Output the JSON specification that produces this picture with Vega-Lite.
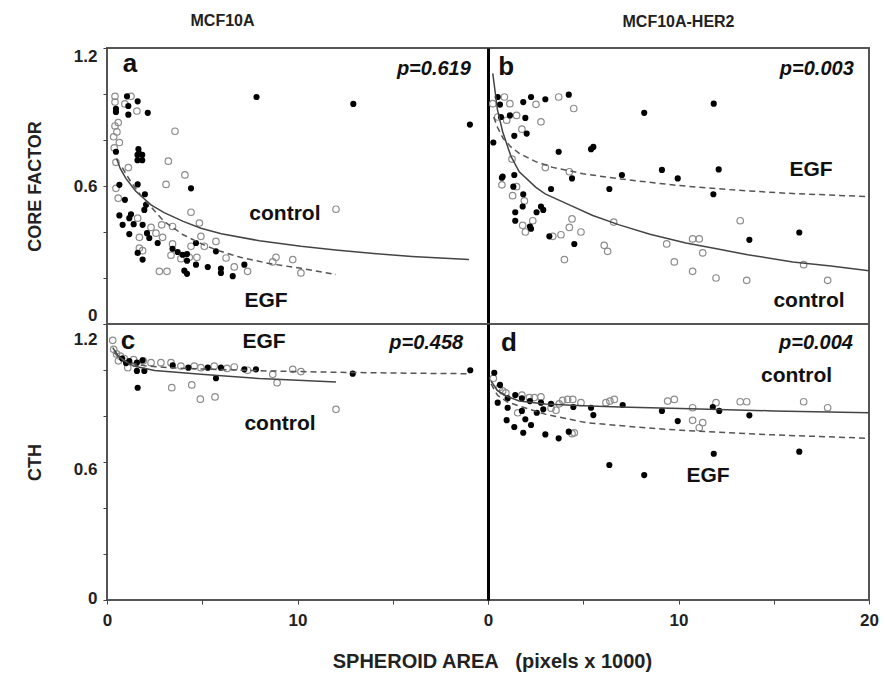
{
"$schema":"https://vega.github.io/schema/vega-lite/v6.json",
"background":"white",
"padding":{"left":25,"top":12,"right":5,"bottom":5},
"bounds":"flush",
"columns":2,
"spacing":0,
"config":{
 "font":"Liberation Sans",
 "view":{"stroke":"#555","strokeWidth":2},
 "axis":{"labelFont":"Liberation Sans","labelFontWeight":"bold","labelFontSize":17,"labelColor":"#222","titleFont":"Liberation Sans","titleFontWeight":"bold","titleFontSize":18,"titleColor":"#222","tickColor":"#444","domainColor":"#444","grid":false,"tickSize":4},
 "title":{"font":"Liberation Sans","fontSize":16,"fontWeight":"bold","color":"#222"}
},
"title":{"text":"SPHEROID AREA\u00a0\u00a0 (pixels x 1000)","orient":"bottom","anchor":"middle","offset":23,"dx":40,"fontSize":20,"fontWeight":"bold","color":"#222"},
"datasets":{
"pts":[
{"panel":"a","treatment":"control","x":0.42,"y":0.99},{"panel":"a","treatment":"control","x":0.42,"y":0.965},{"panel":"a","treatment":"control","x":1.26,"y":0.99},{"panel":"a","treatment":"control","x":0.94,"y":0.957},{"panel":"a","treatment":"control","x":1.57,"y":0.926},{"panel":"a","treatment":"control","x":0.59,"y":0.876},{"panel":"a","treatment":"control","x":0.42,"y":0.861},{"panel":"a","treatment":"control","x":0.52,"y":0.835},{"panel":"a","treatment":"control","x":3.57,"y":0.838},{"panel":"a","treatment":"control","x":0.35,"y":0.814},{"panel":"a","treatment":"control","x":0.65,"y":0.789},{"panel":"a","treatment":"control","x":0.38,"y":0.766},{"panel":"a","treatment":"control","x":0.47,"y":0.703},{"panel":"a","treatment":"control","x":3.22,"y":0.708},{"panel":"a","treatment":"control","x":1.12,"y":0.68},{"panel":"a","treatment":"control","x":4.09,"y":0.648},{"panel":"a","treatment":"control","x":3.1,"y":0.607},{"panel":"a","treatment":"control","x":0.47,"y":0.59},{"panel":"a","treatment":"control","x":0.59,"y":0.547},{"panel":"a","treatment":"control","x":4.41,"y":0.486},{"panel":"a","treatment":"control","x":1.61,"y":0.46},{"panel":"a","treatment":"control","x":2.31,"y":0.42},{"panel":"a","treatment":"control","x":2.87,"y":0.431},{"panel":"a","treatment":"control","x":3.44,"y":0.424},{"panel":"a","treatment":"control","x":4.85,"y":0.439},{"panel":"a","treatment":"control","x":1.7,"y":0.377},{"panel":"a","treatment":"control","x":2.57,"y":0.395},{"panel":"a","treatment":"control","x":2.92,"y":0.377},{"panel":"a","treatment":"control","x":4.93,"y":0.381},{"panel":"a","treatment":"control","x":3.44,"y":0.348},{"panel":"a","treatment":"control","x":4.41,"y":0.338},{"panel":"a","treatment":"control","x":5.11,"y":0.338},{"panel":"a","treatment":"control","x":5.72,"y":0.359},{"panel":"a","treatment":"control","x":1.7,"y":0.33},{"panel":"a","treatment":"control","x":1.87,"y":0.319},{"panel":"a","treatment":"control","x":3.36,"y":0.299},{"panel":"a","treatment":"control","x":3.88,"y":0.284},{"panel":"a","treatment":"control","x":4.32,"y":0.29},{"panel":"a","treatment":"control","x":4.72,"y":0.29},{"panel":"a","treatment":"control","x":6.25,"y":0.287},{"panel":"a","treatment":"control","x":6.68,"y":0.248},{"panel":"a","treatment":"control","x":7.38,"y":0.229},{"panel":"a","treatment":"control","x":2.75,"y":0.229},{"panel":"a","treatment":"control","x":3.15,"y":0.229},{"panel":"a","treatment":"control","x":8.87,"y":0.29},{"panel":"a","treatment":"control","x":9.75,"y":0.28},{"panel":"a","treatment":"control","x":8.7,"y":0.27},{"panel":"a","treatment":"control","x":10.18,"y":0.222},{"panel":"a","treatment":"control","x":12.02,"y":0.499},
{"panel":"a","treatment":"EGF","x":7.85,"y":0.987},{"panel":"a","treatment":"EGF","x":1.05,"y":0.99},{"panel":"a","treatment":"EGF","x":1.61,"y":0.968},{"panel":"a","treatment":"EGF","x":0.47,"y":0.936},{"panel":"a","treatment":"EGF","x":0.47,"y":0.922},{"panel":"a","treatment":"EGF","x":1.12,"y":0.948},{"panel":"a","treatment":"EGF","x":1.12,"y":0.91},{"panel":"a","treatment":"EGF","x":2.14,"y":0.918},{"panel":"a","treatment":"EGF","x":0.47,"y":0.749},{"panel":"a","treatment":"EGF","x":1.65,"y":0.76},{"panel":"a","treatment":"EGF","x":1.7,"y":0.74},{"panel":"a","treatment":"EGF","x":1.6,"y":0.735},{"panel":"a","treatment":"EGF","x":1.85,"y":0.735},{"panel":"a","treatment":"EGF","x":1.6,"y":0.712},{"panel":"a","treatment":"EGF","x":1.85,"y":0.712},{"panel":"a","treatment":"EGF","x":12.93,"y":0.957},{"panel":"a","treatment":"EGF","x":19.05,"y":0.867},{"panel":"a","treatment":"EGF","x":0.65,"y":0.605},{"panel":"a","treatment":"EGF","x":1.61,"y":0.607},{"panel":"a","treatment":"EGF","x":4.41,"y":0.59},{"panel":"a","treatment":"EGF","x":0.94,"y":0.54},{"panel":"a","treatment":"EGF","x":1.99,"y":0.564},{"panel":"a","treatment":"EGF","x":2.05,"y":0.518},{"panel":"a","treatment":"EGF","x":1.96,"y":0.496},{"panel":"a","treatment":"EGF","x":0.65,"y":0.472},{"panel":"a","treatment":"EGF","x":1.26,"y":0.477},{"panel":"a","treatment":"EGF","x":1.17,"y":0.46},{"panel":"a","treatment":"EGF","x":0.82,"y":0.431},{"panel":"a","treatment":"EGF","x":1.4,"y":0.434},{"panel":"a","treatment":"EGF","x":1.87,"y":0.431},{"panel":"a","treatment":"EGF","x":2.1,"y":0.395},{"panel":"a","treatment":"EGF","x":1.17,"y":0.391},{"panel":"a","treatment":"EGF","x":2.22,"y":0.374},{"panel":"a","treatment":"EGF","x":2.66,"y":0.352},{"panel":"a","treatment":"EGF","x":4.67,"y":0.352},{"panel":"a","treatment":"EGF","x":5.72,"y":0.316},{"panel":"a","treatment":"EGF","x":1.61,"y":0.309},{"panel":"a","treatment":"EGF","x":3.44,"y":0.327},{"panel":"a","treatment":"EGF","x":3.71,"y":0.313},{"panel":"a","treatment":"EGF","x":3.97,"y":0.301},{"panel":"a","treatment":"EGF","x":4.2,"y":0.304},{"panel":"a","treatment":"EGF","x":1.87,"y":0.28},{"panel":"a","treatment":"EGF","x":4.2,"y":0.275},{"panel":"a","treatment":"EGF","x":4.67,"y":0.258},{"panel":"a","treatment":"EGF","x":5.29,"y":0.248},{"panel":"a","treatment":"EGF","x":5.98,"y":0.241},{"panel":"a","treatment":"EGF","x":5.98,"y":0.222},{"panel":"a","treatment":"EGF","x":7.21,"y":0.258},{"panel":"a","treatment":"EGF","x":4.06,"y":0.232},{"panel":"a","treatment":"EGF","x":4.2,"y":0.218},{"panel":"a","treatment":"EGF","x":6.6,"y":0.208},
{"panel":"b","treatment":"control","x":0.86,"y":0.987},{"panel":"b","treatment":"control","x":0.25,"y":0.958},{"panel":"b","treatment":"control","x":1.15,"y":0.958},{"panel":"b","treatment":"control","x":2.52,"y":0.955},{"panel":"b","treatment":"control","x":3.71,"y":0.987},{"panel":"b","treatment":"control","x":4.5,"y":0.937},{"panel":"b","treatment":"control","x":0.51,"y":0.9},{"panel":"b","treatment":"control","x":0.98,"y":0.886},{"panel":"b","treatment":"control","x":1.5,"y":0.907},{"panel":"b","treatment":"control","x":2.78,"y":0.879},{"panel":"b","treatment":"control","x":1.78,"y":0.847},{"panel":"b","treatment":"control","x":1.26,"y":0.717},{"panel":"b","treatment":"control","x":3.01,"y":0.68},{"panel":"b","treatment":"control","x":4.27,"y":0.662},{"panel":"b","treatment":"control","x":0.73,"y":0.605},{"panel":"b","treatment":"control","x":1.5,"y":0.597},{"panel":"b","treatment":"control","x":1.29,"y":0.558},{"panel":"b","treatment":"control","x":1.91,"y":0.535},{"panel":"b","treatment":"control","x":4.41,"y":0.457},{"panel":"b","treatment":"control","x":2.35,"y":0.449},{"panel":"b","treatment":"control","x":1.82,"y":0.429},{"panel":"b","treatment":"control","x":1.96,"y":0.4},{"panel":"b","treatment":"control","x":4.27,"y":0.42},{"panel":"b","treatment":"control","x":4.88,"y":0.4},{"panel":"b","treatment":"control","x":3.83,"y":0.388},{"panel":"b","treatment":"control","x":3.4,"y":0.381},{"panel":"b","treatment":"control","x":6.1,"y":0.342},{"panel":"b","treatment":"control","x":6.28,"y":0.316},{"panel":"b","treatment":"control","x":4.01,"y":0.28},{"panel":"b","treatment":"control","x":6.6,"y":0.443},{"panel":"b","treatment":"control","x":9.38,"y":0.348},{"panel":"b","treatment":"control","x":9.78,"y":0.27},{"panel":"b","treatment":"control","x":13.24,"y":0.449},{"panel":"b","treatment":"control","x":10.74,"y":0.37},{"panel":"b","treatment":"control","x":11.09,"y":0.37},{"panel":"b","treatment":"control","x":11.27,"y":0.309},{"panel":"b","treatment":"control","x":10.74,"y":0.229},{"panel":"b","treatment":"control","x":11.97,"y":0.2},{"panel":"b","treatment":"control","x":13.58,"y":0.19},{"panel":"b","treatment":"control","x":16.57,"y":0.258},{"panel":"b","treatment":"control","x":17.83,"y":0.19},
{"panel":"b","treatment":"EGF","x":0.51,"y":0.987},{"panel":"b","treatment":"EGF","x":0.63,"y":0.954},{"panel":"b","treatment":"EGF","x":1.85,"y":0.965},{"panel":"b","treatment":"EGF","x":2.26,"y":0.987},{"panel":"b","treatment":"EGF","x":3.01,"y":0.977},{"panel":"b","treatment":"EGF","x":4.24,"y":0.997},{"panel":"b","treatment":"EGF","x":8.2,"y":0.918},{"panel":"b","treatment":"EGF","x":0.68,"y":0.9},{"panel":"b","treatment":"EGF","x":1.15,"y":0.907},{"panel":"b","treatment":"EGF","x":1.96,"y":0.896},{"panel":"b","treatment":"EGF","x":2.03,"y":0.828},{"panel":"b","treatment":"EGF","x":1.38,"y":0.818},{"panel":"b","treatment":"EGF","x":0.28,"y":0.789},{"panel":"b","treatment":"EGF","x":3.71,"y":0.749},{"panel":"b","treatment":"EGF","x":5.41,"y":0.76},{"panel":"b","treatment":"EGF","x":5.53,"y":0.77},{"panel":"b","treatment":"EGF","x":0.77,"y":0.641},{"panel":"b","treatment":"EGF","x":1.38,"y":0.648},{"panel":"b","treatment":"EGF","x":4.41,"y":0.633},{"panel":"b","treatment":"EGF","x":7.03,"y":0.648},{"panel":"b","treatment":"EGF","x":9.13,"y":0.67},{"panel":"b","treatment":"EGF","x":9.96,"y":0.633},{"panel":"b","treatment":"EGF","x":11.85,"y":0.958},{"panel":"b","treatment":"EGF","x":12.11,"y":0.672},{"panel":"b","treatment":"EGF","x":0.73,"y":0.636},{"panel":"b","treatment":"EGF","x":1.33,"y":0.597},{"panel":"b","treatment":"EGF","x":3.31,"y":0.587},{"panel":"b","treatment":"EGF","x":6.37,"y":0.587},{"panel":"b","treatment":"EGF","x":1.85,"y":0.564},{"panel":"b","treatment":"EGF","x":1.82,"y":0.511},{"panel":"b","treatment":"EGF","x":2.78,"y":0.511},{"panel":"b","treatment":"EGF","x":2.9,"y":0.496},{"panel":"b","treatment":"EGF","x":2.55,"y":0.486},{"panel":"b","treatment":"EGF","x":1.43,"y":0.486},{"panel":"b","treatment":"EGF","x":1.43,"y":0.449},{"panel":"b","treatment":"EGF","x":2.2,"y":0.424},{"panel":"b","treatment":"EGF","x":2.26,"y":0.414},{"panel":"b","treatment":"EGF","x":3.22,"y":0.381},{"panel":"b","treatment":"EGF","x":4.53,"y":0.348},{"panel":"b","treatment":"EGF","x":11.83,"y":0.564},{"panel":"b","treatment":"EGF","x":13.72,"y":0.366},{"panel":"b","treatment":"EGF","x":16.34,"y":0.398},
{"panel":"c","treatment":"control","x":0.3,"y":1.129},{"panel":"c","treatment":"control","x":0.35,"y":1.09},{"panel":"c","treatment":"control","x":0.5,"y":1.07},{"panel":"c","treatment":"control","x":0.7,"y":1.06},{"panel":"c","treatment":"control","x":0.9,"y":1.05},{"panel":"c","treatment":"control","x":0.6,"y":1.04},{"panel":"c","treatment":"control","x":1.09,"y":1.01},{"panel":"c","treatment":"control","x":2.31,"y":1.032},{"panel":"c","treatment":"control","x":2.83,"y":1.032},{"panel":"c","treatment":"control","x":3.36,"y":1.032},{"panel":"c","treatment":"control","x":3.88,"y":1.017},{"panel":"c","treatment":"control","x":4.58,"y":1.017},{"panel":"c","treatment":"control","x":4.93,"y":1.01},{"panel":"c","treatment":"control","x":5.63,"y":1.017},{"panel":"c","treatment":"control","x":6.3,"y":1.007},{"panel":"c","treatment":"control","x":6.68,"y":1.013},{"panel":"c","treatment":"control","x":7.38,"y":0.999},{"panel":"c","treatment":"control","x":3.4,"y":0.923},{"panel":"c","treatment":"control","x":4.45,"y":0.935},{"panel":"c","treatment":"control","x":4.9,"y":0.873},{"panel":"c","treatment":"control","x":5.67,"y":0.883},{"panel":"c","treatment":"control","x":8.7,"y":0.981},{"panel":"c","treatment":"control","x":8.93,"y":0.945},{"panel":"c","treatment":"control","x":9.75,"y":1.003},{"panel":"c","treatment":"control","x":10.18,"y":0.993},{"panel":"c","treatment":"control","x":12.02,"y":0.829},{"panel":"c","treatment":"control","x":1.4,"y":1.045},{"panel":"c","treatment":"control","x":1.9,"y":1.04},
{"panel":"c","treatment":"EGF","x":1.17,"y":1.039},{"panel":"c","treatment":"EGF","x":1.57,"y":1.032},{"panel":"c","treatment":"EGF","x":1.57,"y":0.996},{"panel":"c","treatment":"EGF","x":1.87,"y":1.042},{"panel":"c","treatment":"EGF","x":1.96,"y":0.996},{"panel":"c","treatment":"EGF","x":1.61,"y":0.923},{"panel":"c","treatment":"EGF","x":3.45,"y":1.02},{"panel":"c","treatment":"EGF","x":4.27,"y":1.01},{"panel":"c","treatment":"EGF","x":5.29,"y":1.01},{"panel":"c","treatment":"EGF","x":5.98,"y":1.01},{"panel":"c","treatment":"EGF","x":7.21,"y":1.003},{"panel":"c","treatment":"EGF","x":7.82,"y":1.003},{"panel":"c","treatment":"EGF","x":5.72,"y":0.964},{"panel":"c","treatment":"EGF","x":12.9,"y":0.984},{"panel":"c","treatment":"EGF","x":19.07,"y":0.999},{"panel":"c","treatment":"EGF","x":0.8,"y":1.05},{"panel":"c","treatment":"EGF","x":1.0,"y":1.03},
{"panel":"d","treatment":"EGF","x":0.33,"y":0.988},{"panel":"d","treatment":"EGF","x":0.63,"y":0.935},{"panel":"d","treatment":"EGF","x":1.43,"y":0.891},{"panel":"d","treatment":"EGF","x":1.78,"y":0.877},{"panel":"d","treatment":"EGF","x":1.03,"y":0.877},{"panel":"d","treatment":"EGF","x":2.2,"y":0.865},{"panel":"d","treatment":"EGF","x":2.78,"y":0.858},{"panel":"d","treatment":"EGF","x":3.31,"y":0.853},{"panel":"d","treatment":"EGF","x":4.48,"y":0.839},{"panel":"d","treatment":"EGF","x":5.41,"y":0.836},{"panel":"d","treatment":"EGF","x":5.53,"y":0.804},{"panel":"d","treatment":"EGF","x":7.07,"y":0.848},{"panel":"d","treatment":"EGF","x":0.51,"y":0.858},{"panel":"d","treatment":"EGF","x":1.03,"y":0.836},{"panel":"d","treatment":"EGF","x":1.78,"y":0.822},{"panel":"d","treatment":"EGF","x":1.96,"y":0.786},{"panel":"d","treatment":"EGF","x":2.56,"y":0.814},{"panel":"d","treatment":"EGF","x":2.9,"y":0.829},{"panel":"d","treatment":"EGF","x":0.98,"y":0.782},{"panel":"d","treatment":"EGF","x":1.38,"y":0.752},{"panel":"d","treatment":"EGF","x":2.26,"y":0.761},{"panel":"d","treatment":"EGF","x":1.85,"y":0.727},{"panel":"d","treatment":"EGF","x":3.01,"y":0.72},{"panel":"d","treatment":"EGF","x":3.71,"y":0.703},{"panel":"d","treatment":"EGF","x":4.24,"y":0.732},{"panel":"d","treatment":"EGF","x":6.37,"y":0.587},{"panel":"d","treatment":"EGF","x":8.2,"y":0.543},{"panel":"d","treatment":"EGF","x":9.13,"y":0.822},{"panel":"d","treatment":"EGF","x":9.96,"y":0.778},{"panel":"d","treatment":"EGF","x":11.8,"y":0.839},{"panel":"d","treatment":"EGF","x":12.14,"y":0.822},{"panel":"d","treatment":"EGF","x":13.72,"y":0.803},{"panel":"d","treatment":"EGF","x":11.85,"y":0.636},{"panel":"d","treatment":"EGF","x":16.34,"y":0.645},
{"panel":"d","treatment":"control","x":0.28,"y":0.964},{"panel":"d","treatment":"control","x":0.59,"y":0.923},{"panel":"d","treatment":"control","x":0.77,"y":0.909},{"panel":"d","treatment":"control","x":0.94,"y":0.901},{"panel":"d","treatment":"control","x":1.78,"y":0.891},{"panel":"d","treatment":"control","x":2.17,"y":0.88},{"panel":"d","treatment":"control","x":2.43,"y":0.88},{"panel":"d","treatment":"control","x":2.78,"y":0.883},{"panel":"d","treatment":"control","x":3.74,"y":0.853},{"panel":"d","treatment":"control","x":3.92,"y":0.868},{"panel":"d","treatment":"control","x":4.18,"y":0.872},{"panel":"d","treatment":"control","x":4.45,"y":0.872},{"panel":"d","treatment":"control","x":4.88,"y":0.858},{"panel":"d","treatment":"control","x":6.19,"y":0.858},{"panel":"d","treatment":"control","x":6.4,"y":0.865},{"panel":"d","treatment":"control","x":6.63,"y":0.872},{"panel":"d","treatment":"control","x":1.56,"y":0.814},{"panel":"d","treatment":"control","x":3.57,"y":0.825},{"panel":"d","treatment":"control","x":3.31,"y":0.834},{"panel":"d","treatment":"control","x":4.41,"y":0.723},{"panel":"d","treatment":"control","x":4.53,"y":0.727},{"panel":"d","treatment":"control","x":9.43,"y":0.865},{"panel":"d","treatment":"control","x":9.78,"y":0.872},{"panel":"d","treatment":"control","x":10.74,"y":0.836},{"panel":"d","treatment":"control","x":11.97,"y":0.858},{"panel":"d","treatment":"control","x":13.24,"y":0.862},{"panel":"d","treatment":"control","x":13.58,"y":0.862},{"panel":"d","treatment":"control","x":16.57,"y":0.862},{"panel":"d","treatment":"control","x":17.83,"y":0.836},{"panel":"d","treatment":"control","x":10.74,"y":0.781},{"panel":"d","treatment":"control","x":11.27,"y":0.771},{"panel":"d","treatment":"control","x":11.09,"y":0.749}
],
"curves":[
{"panel":"a","treatment":"control","x":0.5,"y":0.72},{"panel":"a","treatment":"control","x":0.7,"y":0.675},{"panel":"a","treatment":"control","x":1,"y":0.632},{"panel":"a","treatment":"control","x":1.5,"y":0.578},{"panel":"a","treatment":"control","x":2.31,"y":0.518},{"panel":"a","treatment":"control","x":3,"y":0.484},{"panel":"a","treatment":"control","x":4,"y":0.446},{"panel":"a","treatment":"control","x":4.93,"y":0.416},{"panel":"a","treatment":"control","x":6,"y":0.392},{"panel":"a","treatment":"control","x":8,"y":0.362},{"panel":"a","treatment":"control","x":10.18,"y":0.338},{"panel":"a","treatment":"control","x":12,"y":0.322},{"panel":"a","treatment":"control","x":14,"y":0.307},{"panel":"a","treatment":"control","x":16,"y":0.294},{"panel":"a","treatment":"control","x":19,"y":0.28},
{"panel":"a","treatment":"EGF","x":0.8,"y":0.68},{"panel":"a","treatment":"EGF","x":1.2,"y":0.625},{"panel":"a","treatment":"EGF","x":1.6,"y":0.578},{"panel":"a","treatment":"EGF","x":2,"y":0.538},{"panel":"a","treatment":"EGF","x":3,"y":0.446},{"panel":"a","treatment":"EGF","x":4,"y":0.388},{"panel":"a","treatment":"EGF","x":5,"y":0.347},{"panel":"a","treatment":"EGF","x":5.81,"y":0.32},{"panel":"a","treatment":"EGF","x":7,"y":0.29},{"panel":"a","treatment":"EGF","x":8.5,"y":0.263},{"panel":"a","treatment":"EGF","x":10.18,"y":0.242},{"panel":"a","treatment":"EGF","x":12.02,"y":0.215},
{"panel":"b","treatment":"control","x":0.25,"y":1.09},{"panel":"b","treatment":"control","x":0.5,"y":0.93},{"panel":"b","treatment":"control","x":0.77,"y":0.836},{"panel":"b","treatment":"control","x":1.2,"y":0.73},{"panel":"b","treatment":"control","x":1.64,"y":0.662},{"panel":"b","treatment":"control","x":2.5,"y":0.595},{"panel":"b","treatment":"control","x":3,"y":0.566},{"panel":"b","treatment":"control","x":4.27,"y":0.518},{"panel":"b","treatment":"control","x":5.5,"y":0.472},{"panel":"b","treatment":"control","x":6.89,"y":0.431},{"panel":"b","treatment":"control","x":8.5,"y":0.39},{"panel":"b","treatment":"control","x":10.39,"y":0.352},{"panel":"b","treatment":"control","x":12,"y":0.327},{"panel":"b","treatment":"control","x":13.63,"y":0.301},{"panel":"b","treatment":"control","x":16,"y":0.27},{"panel":"b","treatment":"control","x":18,"y":0.252},{"panel":"b","treatment":"control","x":20,"y":0.232},
{"panel":"b","treatment":"EGF","x":0.3,"y":0.9},{"panel":"b","treatment":"EGF","x":0.5,"y":0.855},{"panel":"b","treatment":"EGF","x":0.8,"y":0.806},{"panel":"b","treatment":"EGF","x":1.2,"y":0.77},{"panel":"b","treatment":"EGF","x":1.64,"y":0.742},{"panel":"b","treatment":"EGF","x":2.5,"y":0.706},{"panel":"b","treatment":"EGF","x":3.4,"y":0.681},{"panel":"b","treatment":"EGF","x":5,"y":0.653},{"panel":"b","treatment":"EGF","x":7,"y":0.63},{"panel":"b","treatment":"EGF","x":10,"y":0.602},{"panel":"b","treatment":"EGF","x":13,"y":0.582},{"panel":"b","treatment":"EGF","x":16,"y":0.567},{"panel":"b","treatment":"EGF","x":20,"y":0.554},
{"panel":"c","treatment":"control","x":0.3,"y":1.097},{"panel":"c","treatment":"control","x":0.6,"y":1.06},{"panel":"c","treatment":"control","x":1,"y":1.035},{"panel":"c","treatment":"control","x":1.4,"y":1.017},{"panel":"c","treatment":"control","x":2.5,"y":0.998},{"panel":"c","treatment":"control","x":4.93,"y":0.981},{"panel":"c","treatment":"control","x":8,"y":0.963},{"panel":"c","treatment":"control","x":12.02,"y":0.948},
{"panel":"c","treatment":"EGF","x":0.38,"y":1.075},{"panel":"c","treatment":"EGF","x":0.7,"y":1.05},{"panel":"c","treatment":"EGF","x":1.2,"y":1.03},{"panel":"c","treatment":"EGF","x":2,"y":1.018},{"panel":"c","treatment":"EGF","x":3.19,"y":1.01},{"panel":"c","treatment":"EGF","x":5,"y":1.004},{"panel":"c","treatment":"EGF","x":8.44,"y":0.996},{"panel":"c","treatment":"EGF","x":12,"y":0.99},{"panel":"c","treatment":"EGF","x":16,"y":0.986},{"panel":"c","treatment":"EGF","x":18.9,"y":0.984},
{"panel":"d","treatment":"control","x":0.16,"y":0.952},{"panel":"d","treatment":"control","x":0.5,"y":0.91},{"panel":"d","treatment":"control","x":1,"y":0.885},{"panel":"d","treatment":"control","x":1.64,"y":0.865},{"panel":"d","treatment":"control","x":3,"y":0.852},{"panel":"d","treatment":"control","x":5,"y":0.845},{"panel":"d","treatment":"control","x":6.89,"y":0.839},{"panel":"d","treatment":"control","x":10.13,"y":0.833},{"panel":"d","treatment":"control","x":15,"y":0.822},{"panel":"d","treatment":"control","x":20,"y":0.814},
{"panel":"d","treatment":"EGF","x":0.16,"y":0.94},{"panel":"d","treatment":"EGF","x":0.5,"y":0.89},{"panel":"d","treatment":"EGF","x":1,"y":0.862},{"panel":"d","treatment":"EGF","x":1.64,"y":0.843},{"panel":"d","treatment":"EGF","x":3.04,"y":0.807},{"panel":"d","treatment":"EGF","x":5.14,"y":0.771},{"panel":"d","treatment":"EGF","x":7.77,"y":0.752},{"panel":"d","treatment":"EGF","x":10.13,"y":0.738},{"panel":"d","treatment":"EGF","x":15,"y":0.718},{"panel":"d","treatment":"EGF","x":20,"y":0.703}
],
"labels":[
{"panel":"a","kind":"letter","text":"a","x":1.2,"y":1.13},{"panel":"b","kind":"letter","text":"b","x":0.95,"y":1.117},{"panel":"c","kind":"letter","text":"c","x":1.1,"y":1.126},{"panel":"d","kind":"letter","text":"d","x":1.1,"y":1.117},
{"panel":"a","kind":"p","text":"p=0.619","x":19.1,"y":1.108},{"panel":"b","kind":"p","text":"p=0.003","x":19.2,"y":1.108},{"panel":"c","kind":"p","text":"p=0.458","x":18.7,"y":1.117},{"panel":"d","kind":"p","text":"p=0.004","x":19.16,"y":1.117},
{"panel":"a","kind":"group","text":"control","x":9.34,"y":0.48},{"panel":"a","kind":"group","text":"EGF","x":8.35,"y":0.1},{"panel":"b","kind":"group","text":"EGF","x":16.96,"y":0.671},{"panel":"b","kind":"group","text":"control","x":16.85,"y":0.1},{"panel":"c","kind":"group","text":"EGF","x":8.24,"y":1.122},{"panel":"c","kind":"group","text":"control","x":9.08,"y":0.765},{"panel":"d","kind":"group","text":"control","x":16.2,"y":0.974},{"panel":"d","kind":"group","text":"EGF","x":11.55,"y":0.539}
]
},
"concat":[
{"width":381,"height":276,"title":{"text":"MCF10A","frame":"group","dx":-75,"offset":18},
"encoding":{"x":{"field":"x","type":"quantitative","scale":{"domain":[0,20],"nice":false,"zero":false},"axis":null},
"y":{"field":"y","type":"quantitative","scale":{"domain":[0,1.2],"nice":false,"zero":false},"axis":{"title":"CORE FACTOR","values":[0,0.2,0.4,0.6,0.8,1,1.2],"labelExpr":"datum.value == 0 ? '0' : (abs(datum.value - 0.6) < 0.01 ? '0.6' : (abs(datum.value - 1.2) < 0.01 ? '1.2' : ''))","labelFlush":true,"labelPadding":6,"titlePadding":29,"domain":false}}},
"layer":[
{"data":{"name":"pts"},"transform":[{"filter":"datum.panel=='a' && datum.treatment=='control'"}],"mark":{"type":"point","shape":"circle","filled":false,"color":"#8c8c8c","strokeWidth":1.2,"size":42,"opacity":1}},
{"data":{"name":"pts"},"transform":[{"filter":"datum.panel=='a' && datum.treatment=='EGF'"}],"mark":{"type":"circle","color":"#000","size":38,"opacity":1}},
{"data":{"name":"curves"},"transform":[{"filter":"datum.panel=='a' && datum.treatment=='control'"}],"mark":{"type":"line","color":"#444","strokeWidth":1.5}},
{"data":{"name":"curves"},"transform":[{"filter":"datum.panel=='a' && datum.treatment=='EGF'"}],"mark":{"type":"line","color":"#555","strokeWidth":1.5,"strokeDash":[6,4]}},
{"data":{"name":"labels"},"transform":[{"filter":"datum.panel=='a' && datum.kind=='letter'"}],"mark":{"type":"text","fontSize":26,"fontWeight":"bold","color":"#111","align":"center","baseline":"middle"},"encoding":{"text":{"field":"text"}}},
{"data":{"name":"labels"},"transform":[{"filter":"datum.panel=='a' && datum.kind=='p'"}],"mark":{"type":"text","fontSize":20,"fontWeight":"bold","fontStyle":"italic","color":"#111","align":"right","baseline":"middle"},"encoding":{"text":{"field":"text"}}},
{"data":{"name":"labels"},"transform":[{"filter":"datum.panel=='a' && datum.kind=='group'"}],"mark":{"type":"text","fontSize":21,"fontWeight":"bold","color":"#111","align":"center","baseline":"middle"},"encoding":{"text":{"field":"text"}}}
]},
{"width":381,"height":276,"title":{"text":"MCF10A-HER2","frame":"group","offset":18},
"encoding":{"x":{"field":"x","type":"quantitative","scale":{"domain":[0,20],"nice":false,"zero":false},"axis":null},
"y":{"field":"y","type":"quantitative","scale":{"domain":[0,1.2],"nice":false,"zero":false},"axis":{"title":null,"labels":false,"ticks":false,"domain":true,"domainColor":"#000","domainWidth":3}}},
"layer":[
{"data":{"name":"pts"},"transform":[{"filter":"datum.panel=='b' && datum.treatment=='control'"}],"mark":{"type":"point","shape":"circle","filled":false,"color":"#8c8c8c","strokeWidth":1.2,"size":42,"opacity":1}},
{"data":{"name":"pts"},"transform":[{"filter":"datum.panel=='b' && datum.treatment=='EGF'"}],"mark":{"type":"circle","color":"#000","size":38,"opacity":1}},
{"data":{"name":"curves"},"transform":[{"filter":"datum.panel=='b' && datum.treatment=='control'"}],"mark":{"type":"line","color":"#444","strokeWidth":1.5}},
{"data":{"name":"curves"},"transform":[{"filter":"datum.panel=='b' && datum.treatment=='EGF'"}],"mark":{"type":"line","color":"#555","strokeWidth":1.5,"strokeDash":[6,4]}},
{"data":{"name":"labels"},"transform":[{"filter":"datum.panel=='b' && datum.kind=='letter'"}],"mark":{"type":"text","fontSize":26,"fontWeight":"bold","color":"#111","align":"center","baseline":"middle"},"encoding":{"text":{"field":"text"}}},
{"data":{"name":"labels"},"transform":[{"filter":"datum.panel=='b' && datum.kind=='p'"}],"mark":{"type":"text","fontSize":20,"fontWeight":"bold","fontStyle":"italic","color":"#111","align":"right","baseline":"middle"},"encoding":{"text":{"field":"text"}}},
{"data":{"name":"labels"},"transform":[{"filter":"datum.panel=='b' && datum.kind=='group'"}],"mark":{"type":"text","fontSize":21,"fontWeight":"bold","color":"#111","align":"center","baseline":"middle"},"encoding":{"text":{"field":"text"}}}
]},
{"width":381,"height":276,
"encoding":{"x":{"field":"x","type":"quantitative","scale":{"domain":[0,20],"nice":false,"zero":false},"axis":{"title":null,"values":[0,5,10,15,20],"labelExpr":"datum.value == 0 ? '0' : (datum.value == 10 ? '10' : '')","labelFlush":false,"labelPadding":8,"domain":false}},
"y":{"field":"y","type":"quantitative","scale":{"domain":[0,1.2],"nice":false,"zero":false},"axis":{"title":"CTH","values":[0,0.2,0.4,0.6,0.8,1,1.2],"labelExpr":"datum.value == 0 ? '0' : (abs(datum.value - 0.6) < 0.01 ? '0.6' : (abs(datum.value - 1.2) < 0.01 ? '1.2' : ''))","labelFlush":true,"labelOffset":7,"labelPadding":6,"titlePadding":29,"domain":false}}},
"layer":[
{"data":{"name":"pts"},"transform":[{"filter":"datum.panel=='c' && datum.treatment=='control'"}],"mark":{"type":"point","shape":"circle","filled":false,"color":"#8c8c8c","strokeWidth":1.2,"size":42,"opacity":1}},
{"data":{"name":"pts"},"transform":[{"filter":"datum.panel=='c' && datum.treatment=='EGF'"}],"mark":{"type":"circle","color":"#000","size":38,"opacity":1}},
{"data":{"name":"curves"},"transform":[{"filter":"datum.panel=='c' && datum.treatment=='control'"}],"mark":{"type":"line","color":"#444","strokeWidth":1.5}},
{"data":{"name":"curves"},"transform":[{"filter":"datum.panel=='c' && datum.treatment=='EGF'"}],"mark":{"type":"line","color":"#555","strokeWidth":1.5,"strokeDash":[6,4]}},
{"data":{"name":"labels"},"transform":[{"filter":"datum.panel=='c' && datum.kind=='letter'"}],"mark":{"type":"text","fontSize":26,"fontWeight":"bold","color":"#111","align":"center","baseline":"middle"},"encoding":{"text":{"field":"text"}}},
{"data":{"name":"labels"},"transform":[{"filter":"datum.panel=='c' && datum.kind=='p'"}],"mark":{"type":"text","fontSize":20,"fontWeight":"bold","fontStyle":"italic","color":"#111","align":"right","baseline":"middle"},"encoding":{"text":{"field":"text"}}},
{"data":{"name":"labels"},"transform":[{"filter":"datum.panel=='c' && datum.kind=='group'"}],"mark":{"type":"text","fontSize":21,"fontWeight":"bold","color":"#111","align":"center","baseline":"middle"},"encoding":{"text":{"field":"text"}}}
]},
{"width":381,"height":276,
"encoding":{"x":{"field":"x","type":"quantitative","scale":{"domain":[0,20],"nice":false,"zero":false},"axis":{"title":null,"values":[0,5,10,15,20],"labelExpr":"datum.value % 10 == 0 ? datum.label : ''","labelFlush":false,"labelPadding":8,"domain":false}},
"y":{"field":"y","type":"quantitative","scale":{"domain":[0,1.2],"nice":false,"zero":false},"axis":{"title":null,"labels":false,"ticks":false,"domain":true,"domainColor":"#000","domainWidth":3}}},
"layer":[
{"data":{"name":"pts"},"transform":[{"filter":"datum.panel=='d' && datum.treatment=='control'"}],"mark":{"type":"point","shape":"circle","filled":false,"color":"#8c8c8c","strokeWidth":1.2,"size":42,"opacity":1}},
{"data":{"name":"pts"},"transform":[{"filter":"datum.panel=='d' && datum.treatment=='EGF'"}],"mark":{"type":"circle","color":"#000","size":38,"opacity":1}},
{"data":{"name":"curves"},"transform":[{"filter":"datum.panel=='d' && datum.treatment=='control'"}],"mark":{"type":"line","color":"#444","strokeWidth":1.5}},
{"data":{"name":"curves"},"transform":[{"filter":"datum.panel=='d' && datum.treatment=='EGF'"}],"mark":{"type":"line","color":"#555","strokeWidth":1.5,"strokeDash":[6,4]}},
{"data":{"name":"labels"},"transform":[{"filter":"datum.panel=='d' && datum.kind=='letter'"}],"mark":{"type":"text","fontSize":26,"fontWeight":"bold","color":"#111","align":"center","baseline":"middle"},"encoding":{"text":{"field":"text"}}},
{"data":{"name":"labels"},"transform":[{"filter":"datum.panel=='d' && datum.kind=='p'"}],"mark":{"type":"text","fontSize":20,"fontWeight":"bold","fontStyle":"italic","color":"#111","align":"right","baseline":"middle"},"encoding":{"text":{"field":"text"}}},
{"data":{"name":"labels"},"transform":[{"filter":"datum.panel=='d' && datum.kind=='group'"}],"mark":{"type":"text","fontSize":21,"fontWeight":"bold","color":"#111","align":"center","baseline":"middle"},"encoding":{"text":{"field":"text"}}}
]}
]
}
